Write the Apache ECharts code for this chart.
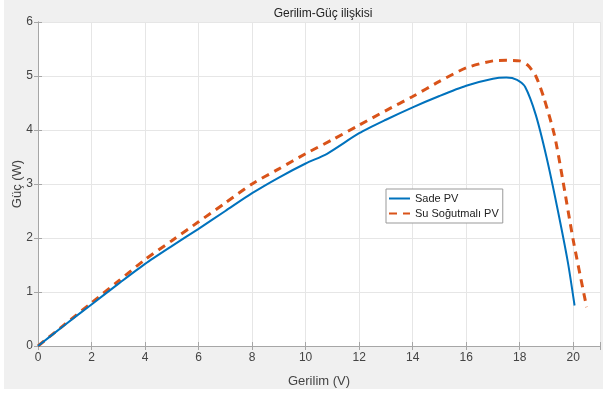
<!DOCTYPE html>
<html>
<head>
<meta charset="utf-8">
<script src="https://cdn.jsdelivr.net/npm/echarts@6/dist/echarts.min.js"></script>
<style>
  html, body { margin: 0; padding: 0; background: #fff; }
  #wrap { position: absolute; left: 4px; top: 0; width: 599px; height: 389px; background: #f0f0f0; }
  #chart { position: absolute; left: 0; top: 0; width: 603px; height: 394px; }
</style>
</head>
<body>
<div id="wrap"></div>
<div id="chart"></div>
<script>
// Sade PV egrisi
const sadeX = [0, 1, 2, 3, 4, 5, 6, 7, 8, 9, 10, 10.8, 12, 13, 14, 15, 16, 17, 17.5, 17.9, 18.2, 18.6, 19, 19.4, 19.8, 20.05]
const sadeY = [0, 0.39, 0.77, 1.15, 1.52, 1.85, 2.17, 2.5, 2.83, 3.12, 3.38, 3.56, 3.94, 4.19, 4.42, 4.63, 4.82, 4.95, 4.97, 4.93, 4.8, 4.28, 3.5, 2.57, 1.55, 0.75]

// Su sogutmali PV egrisi
const suX = [0, 1, 2, 3, 4, 5, 6, 7, 8, 9, 10, 11, 12, 13, 14, 15, 16, 17, 17.5, 18, 18.3, 18.6, 18.9, 19.3, 19.6, 20, 20.5]
const suY = [0, 0.4, 0.8, 1.2, 1.6, 1.95, 2.3, 2.65, 3.0, 3.28, 3.56, 3.82, 4.09, 4.36, 4.62, 4.9, 5.15, 5.28, 5.29, 5.28, 5.2, 5.0, 4.6, 3.9, 3.1, 1.96, 0.72]

const seriesNames = ['Sade PV', 'Su Soğutmalı PV']
const xTicks = [0, 2, 4, 6, 8, 10, 12, 14, 16, 18, 20]
const yTicks = [0, 1, 2, 3, 4, 5, 6]

const pairs = (xs, ys) => xs.map((x, i) => [x, ys[i]])

const font = 'Liberation Sans, Arial, sans-serif'
const axisGray = '#a6a6a6'
const labelColor = '#444'

const baseX = {
  type: 'value',
  min: 0,
  max: 21,
  interval: 2,
  axisLine: { show: true, lineStyle: { color: axisGray } },
  axisTick: { show: true, inside: true, length: 4, lineStyle: { color: axisGray } },
}
const baseY = {
  type: 'value',
  min: 0,
  max: 6,
  interval: 1,
  axisLine: { show: true, lineStyle: { color: axisGray } },
  axisTick: { show: true, inside: true, length: 4, lineStyle: { color: axisGray } },
}

const chart = echarts.init(document.getElementById('chart'))
chart.setOption({
  backgroundColor: 'transparent',
  animation: false,
  title: {
    text: 'Gerilim-Güç ilişkisi',
    left: 318,
    textAlign: 'center',
    top: 3,
    textStyle: { fontFamily: font, fontSize: 12, fontWeight: 'normal', color: '#222' },
  },
  legend: {
    orient: 'vertical',
    left: 386,
    top: 189,
    itemWidth: 21,
    itemHeight: 10,
    itemGap: 4,
    padding: [4, 4, 4, 2],
    backgroundColor: '#fff',
    borderColor: '#999',
    borderWidth: 1,
    borderRadius: 0,
    itemStyle: { opacity: 0 },
    textStyle: { fontFamily: font, fontSize: 11, color: '#222' },
    data: seriesNames,
  },
  grid: {
    left: 38, right: 3, top: 22, bottom: 48,
    outerBoundsMode: 'none',
    backgroundColor: '#fff', show: true, borderWidth: 0,
  },
  xAxis: [
    {
      ...baseX,
      position: 'bottom',
      name: 'Gerilim (V)',
      nameLocation: 'middle',
      nameGap: 29,
      nameTextStyle: { fontFamily: font, fontSize: 13, color: labelColor },
      axisLabel: {
        fontFamily: font, fontSize: 12, color: labelColor, margin: 6,
        formatter: v => (xTicks.includes(v) ? String(v) : ''),
      },
      splitLine: { show: true, lineStyle: { color: '#e6e6e6' } },
    },
    { ...baseX, position: 'top', axisLabel: { show: false }, splitLine: { show: false } },
  ],
  yAxis: [
    {
      ...baseY,
      position: 'left',
      name: 'Güç (W)',
      nameLocation: 'middle',
      nameGap: 14,
      nameMoveOverlap: false,
      nameTextStyle: { fontFamily: font, fontSize: 13, color: labelColor },
      axisLabel: {
        fontFamily: font, fontSize: 12, color: labelColor, margin: 5,
        formatter: v => (yTicks.includes(v) ? String(v) : ''),
      },
      splitLine: { show: true, lineStyle: { color: '#e6e6e6' } },
    },
    { ...baseY, position: 'right', axisLabel: { show: false }, splitLine: { show: false } },
  ],
  series: [
    {
      name: seriesNames[0],
      type: 'line',
      data: pairs(sadeX, sadeY),
      smooth: 0.25,
      symbol: 'none',
      lineStyle: { color: '#0072BD', width: 2 },
      itemStyle: { color: '#0072BD' },
      z: 3,
    },
    {
      name: seriesNames[1],
      type: 'line',
      data: pairs(suX, suY),
      smooth: 0.25,
      symbol: 'none',
      lineStyle: { color: '#D95319', width: 3, type: [8, 6] },
      itemStyle: { color: '#D95319' },
      z: 2,
    },
  ],
})
</script>
</body>
</html>
